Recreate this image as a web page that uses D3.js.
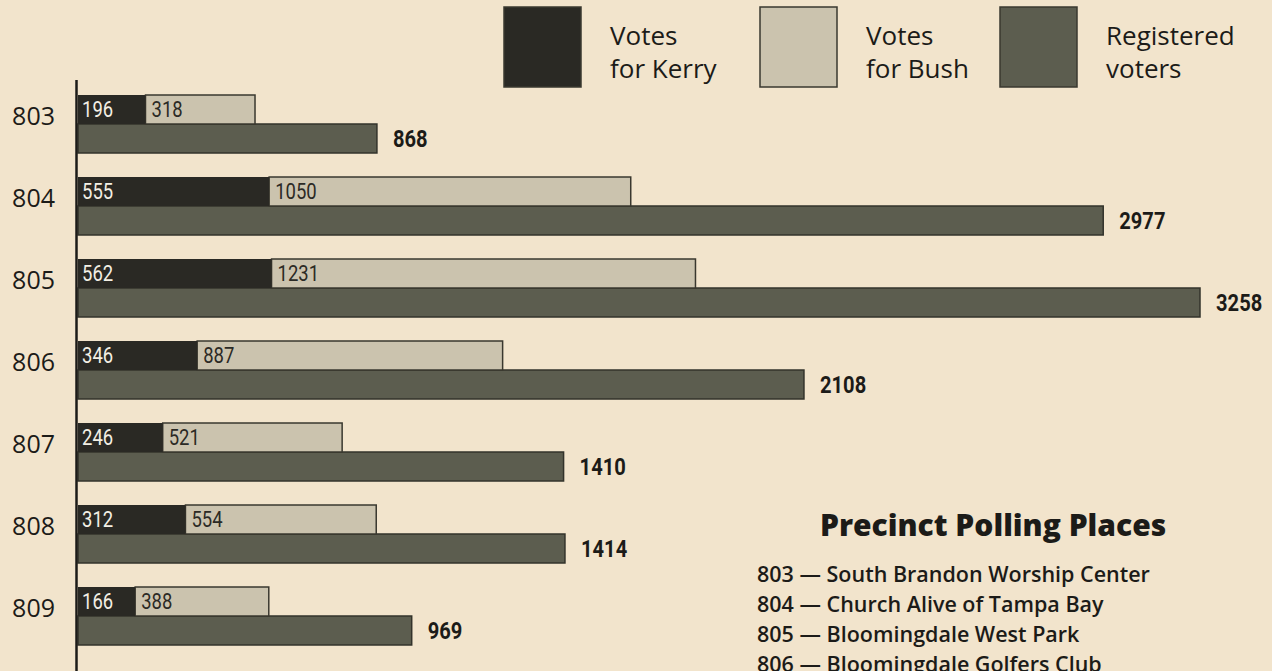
<!DOCTYPE html>
<html>
<head>
<meta charset="utf-8">
<script src="https://cdn.jsdelivr.net/npm/d3@7"></script>
<style>
  body { margin: 0; background: #f2e4cc; }
  svg { display: block; }
</style>
</head>
<body>
<div id="chart"></div>
<script>
const precincts = ["803", "804", "805", "806", "807", "808", "809"];
const kerry = [196, 555, 562, 346, 246, 312, 166];
const bush = [318, 1050, 1231, 887, 521, 554, 388];
const registered = [868, 2977, 3258, 2108, 1410, 1414, 969];

const seriesNames = [["Votes", "for Kerry"], ["Votes", "for Bush"], ["Registered", "voters"]];
const seriesColors = ["#2a2924", "#cbc3ae", "#5c5d4f"];

const placeTitle = "Precinct Polling Places";
const places = [
	"South Brandon Worship Center",
	"Church Alive of Tampa Bay",
	"Bloomingdale West Park",
	"Bloomingdale Golfers Club"
];

const w = 1272;
const h = 671;
const barH = 29;
const squeeze = 0.84; // condensed look for the numbers

const svg = d3.select("#chart")
	.append("svg")
	.attr("width", w)
	.attr("height", h)
	.attr("viewBox", [0, 0, w, h]);

svg.append("rect")
	.attr("width", w)
	.attr("height", h)
	.attr("fill", "#f2e4cc");

const x = d3.scaleLinear()
	.domain([0, d3.max(registered)])
	.range([78, 1200]);

const y = d3.scaleBand()
	.domain(precincts)
	.range([95, 645])
	.paddingInner(24 / 82)
	.paddingOuter(0);

const rows = precincts.map((p, i) => ({ p, k: kerry[i], b: bush[i], r: registered[i] }));

// bars
const g = svg.append("g");

g.selectAll("rect.reg")
	.data(rows)
	.join("rect")
		.attr("class", "reg")
		.attr("x", x(0))
		.attr("y", d => y(d.p) + barH)
		.attr("width", d => x(d.r) - x(0))
		.attr("height", barH)
		.attr("fill", seriesColors[2])
		.attr("stroke", "#33332b")
		.attr("stroke-width", 1.5);

g.selectAll("rect.bush")
	.data(rows)
	.join("rect")
		.attr("class", "bush")
		.attr("x", d => x(d.k))
		.attr("y", d => y(d.p))
		.attr("width", d => x(d.k + d.b) - x(d.k))
		.attr("height", barH)
		.attr("fill", seriesColors[1])
		.attr("stroke", "#3a382f")
		.attr("stroke-width", 1.5);

g.selectAll("rect.kerry")
	.data(rows)
	.join("rect")
		.attr("class", "kerry")
		.attr("x", x(0))
		.attr("y", d => y(d.p))
		.attr("width", d => x(d.k) - x(0))
		.attr("height", barH)
		.attr("fill", seriesColors[0]);

// value labels, squeezed horizontally
function numLabel(cls, value, fx, fy, fill, size, weight) {
	g.selectAll("text." + cls)
		.data(rows)
		.join("text")
			.attr("class", cls)
			.attr("transform", d => `translate(${fx(d)},${fy(d)}) scale(${squeeze},1)`)
			.attr("dy", "0.36em")
			.attr("font-family", "Roboto, sans-serif")
			.attr("font-size", size)
			.attr("font-weight", weight)
			.attr("fill", fill)
			.text(value);
}

numLabel("kv", d => d.k, d => x(0) + 4, d => y(d.p) + barH / 2, "#f3efe4", 22, 400);
numLabel("bv", d => d.b, d => x(d.k) + 6, d => y(d.p) + barH / 2, "#2b2a25", 22, 400);
numLabel("rv", d => d.r, d => x(d.r) + 16, d => y(d.p) + barH * 1.5, "#1c1b18", 24, 700);

// axis
svg.append("line")
	.attr("x1", 76.5).attr("x2", 76.5)
	.attr("y1", 80).attr("y2", h)
	.attr("stroke", "#1c1b18")
	.attr("stroke-width", 2.5);

const yAxis = svg.append("g")
	.attr("transform", "translate(76,0)")
	.call(d3.axisLeft(y).tickSize(0).tickPadding(21));
yAxis.select(".domain").remove();
yAxis.selectAll("text")
	.attr("transform", "translate(0,-7)")
	.attr("font-family", "'Open Sans', sans-serif")
	.attr("font-weight", 500)
	.attr("font-size", 25)
	.attr("fill", "#1c1b18");

// legend
const legendX = [504, 760, 1000];
const legend = svg.append("g")
	.selectAll("g")
	.data(seriesNames)
	.join("g")
		.attr("transform", (d, i) => `translate(${legendX[i]},7)`);

legend.append("rect")
	.attr("width", 77)
	.attr("height", 80)
	.attr("fill", (d, i) => seriesColors[i])
	.attr("stroke", "#3a382f")
	.attr("stroke-width", 1.5);

legend.append("text")
	.attr("font-family", "'Open Sans', sans-serif")
	.attr("font-weight", 500)
	.attr("font-size", 26)
	.attr("fill", "#1c1b18")
	.selectAll("tspan")
	.data(d => d)
	.join("tspan")
		.attr("x", 106)
		.attr("y", (d, i) => 38 + i * 33)
		.text(d => d);

// polling places
svg.append("text")
	.attr("x", 820)
	.attr("y", 536)
	.attr("font-family", "'Open Sans', sans-serif")
	.attr("font-weight", 800)
	.attr("font-size", 30)
	.attr("fill", "#1c1b18")
	.text(placeTitle);

svg.append("g")
	.selectAll("text")
	.data(places)
	.join("text")
		.attr("x", 757)
		.attr("y", (d, i) => 582 + i * 30)
		.attr("font-family", "'Open Sans', sans-serif")
		.attr("font-weight", 600)
		.attr("font-size", 21.5)
		.attr("fill", "#1c1b18")
		.text((d, i) => `${precincts[i]} — ${d}`);
</script>
</body>
</html>
